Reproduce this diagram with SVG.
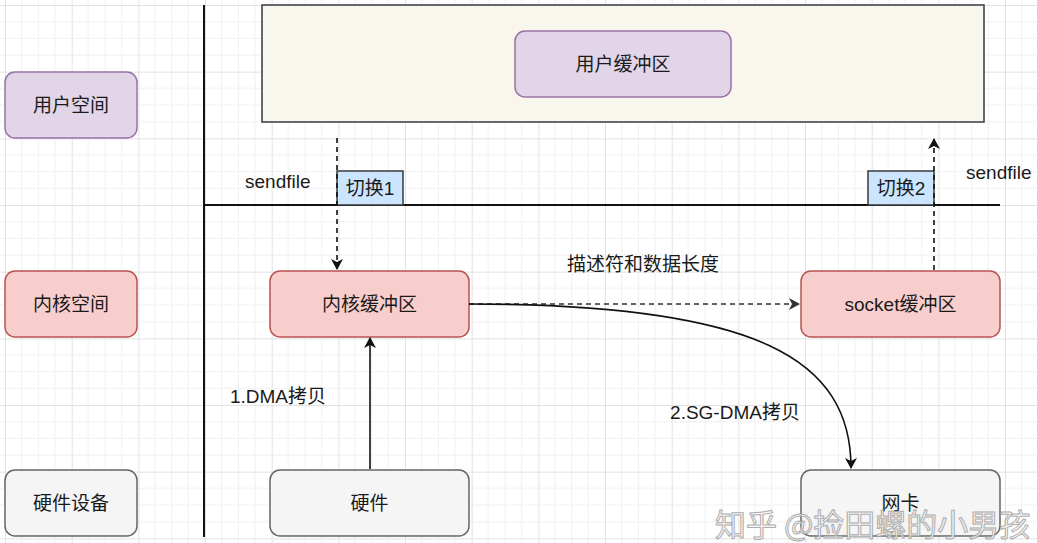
<svg xmlns="http://www.w3.org/2000/svg" width="1037" height="543" viewBox="0 0 1037 543">
<defs>
<pattern id="grid" patternUnits="userSpaceOnUse" x="5" y="5" width="66.667" height="66.667">
<path d="M16.667 0V66.667M33.333 0V66.667M50 0V66.667M0 16.667H66.667M0 33.333H66.667M0 50H66.667" stroke="#f0f0f0" stroke-width="1" fill="none"/>
<path d="M0.5 0V66.667M0 0.5H66.667" stroke="#e2e2e2" stroke-width="1" fill="none"/>
</pattern>
<marker id="ah" markerWidth="12" markerHeight="12" refX="10" refY="6" orient="auto" markerUnits="userSpaceOnUse">
<path d="M0,0 L11,6 L0,12 L3,6 Z" fill="#111"/>
</marker>
<marker id="ahg" markerWidth="12" markerHeight="12" refX="10" refY="6" orient="auto" markerUnits="userSpaceOnUse">
<path d="M0,0 L11,6 L0,12 L3,6 Z" fill="#333"/>
</marker>
</defs>
<style>
text{font-family:"Liberation Sans","Noto Sans CJK SC",sans-serif;font-size:19px;fill:#1a1a1a;}
.t{text-anchor:middle;dominant-baseline:central;}
.purple{fill:#e1d5e7;stroke:#9673a6;stroke-width:1.5;}
.red{fill:#f8cecc;stroke:#b85450;stroke-width:1.5;}
.gray{fill:#f5f5f5;stroke:#666;stroke-width:1.5;}
.blue{fill:#cce5ff;stroke:#36393d;stroke-width:1.5;}
</style>
<rect width="1037" height="543" fill="#ffffff"/>
<rect width="1037" height="543" fill="url(#grid)"/>

<g id="dividers" stroke="#111" stroke-width="2">
<line x1="204" y1="5" x2="204" y2="537"/>
<line x1="204" y1="205" x2="1000" y2="205"/>
</g>

<g id="user-space-label"><rect class="purple" x="5" y="72" width="132" height="66" rx="10"/><text class="t" x="71" y="105">用户空间</text></g>
<g id="kernel-space-label"><rect class="red" x="5" y="271" width="132" height="66" rx="10"/><text class="t" x="71" y="304">内核空间</text></g>
<g id="hardware-label"><rect class="gray" x="5" y="470" width="132" height="66" rx="10"/><text class="t" x="71" y="503">硬件设备</text></g>

<g id="user-area"><rect x="262" y="5" width="722" height="117" fill="#f9f7ed" stroke="#36393d" stroke-width="1.5"/></g>
<g id="user-buffer"><rect class="purple" x="515" y="31" width="216" height="66" rx="10"/><text class="t" x="623" y="64">用户缓冲区</text></g>
<g id="kernel-buffer"><rect class="red" x="270" y="271" width="199" height="66" rx="10"/><text class="t" x="369.5" y="304">内核缓冲区</text></g>
<g id="socket-buffer"><rect class="red" x="801" y="271" width="199" height="66" rx="10"/><text class="t" x="900.5" y="304">socket缓冲区</text></g>
<g id="hardware"><rect class="gray" x="270" y="470" width="199" height="66" rx="10"/><text class="t" x="369.5" y="503">硬件</text></g>
<g id="nic"><rect class="gray" x="801" y="470" width="199" height="66" rx="10"/><text class="t" x="900.5" y="503">网卡</text></g>
<g id="switch1"><rect class="blue" x="337" y="171" width="66" height="34"/><text class="t" x="370" y="188">切换1</text></g>
<g id="switch2"><rect class="blue" x="868" y="171" width="66" height="34"/><text class="t" x="901" y="188">切换2</text></g>

<g id="connectors" fill="none" stroke-width="1.6">
<line x1="337" y1="138" x2="337" y2="269" stroke="#111" stroke-dasharray="5,4" marker-end="url(#ah)"/>
<line x1="934" y1="270" x2="934" y2="139" stroke="#111" stroke-dasharray="5,4" marker-end="url(#ah)"/>
<line x1="469" y1="304" x2="799" y2="304" stroke="#333" stroke-dasharray="5,4" marker-end="url(#ahg)"/>
<line x1="370" y1="469" x2="370" y2="338" stroke="#111" marker-end="url(#ah)"/>
<path d="M469,304 C760,304 851,360 851,468" stroke="#111" marker-end="url(#ah)"/>
</g>

<g id="labels">
<text x="245" y="188">sendfile</text>
<text x="966" y="179">sendfile</text>
<text class="t" x="643" y="264">描述符和数据长度</text>
<text class="t" x="278" y="396">1.DMA拷贝</text>
<text class="t" x="735" y="412">2.SG-DMA拷贝</text>
</g>

<g id="watermark"><text x="715" y="536" style="font-family:'Noto Sans CJK SC',sans-serif;font-size:31px;fill:#f6f6f6;stroke:#a0a0a0;stroke-width:1;opacity:0.85">知乎 @捡田螺的小男孩</text></g>
</svg>
